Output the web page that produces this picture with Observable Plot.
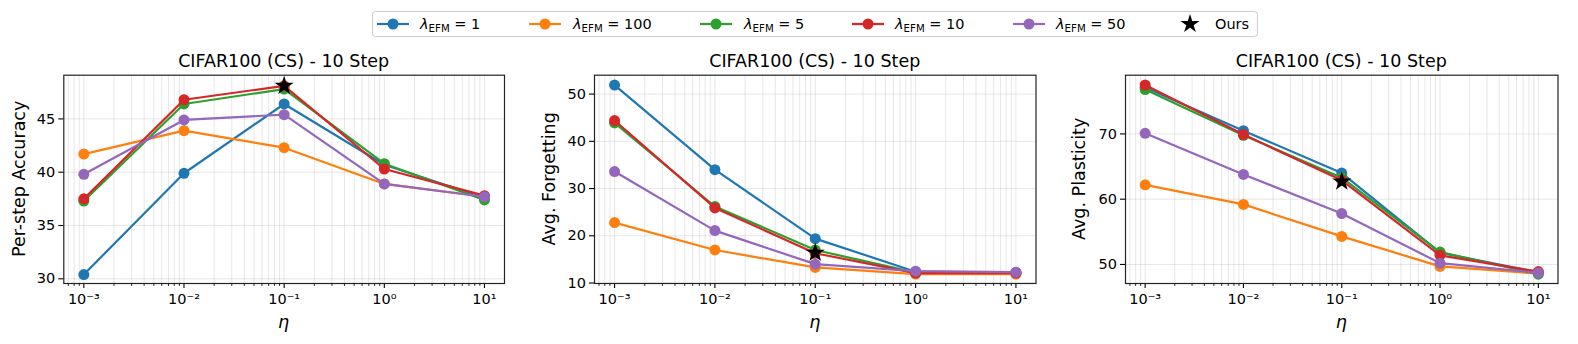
<!DOCTYPE html>
<html>
<head>
<meta charset="utf-8">
<script src="https://cdn.jsdelivr.net/npm/d3@7"></script>
<script src="https://cdn.jsdelivr.net/npm/@observablehq/plot@0.6"></script>
<style>
  html, body { margin: 0; padding: 0; background: #fff; }
  #root { position: relative; width: 1578px; height: 344px; overflow: hidden; font-family: "DejaVu Sans", sans-serif; }
  #root > svg, #root > .panel { position: absolute; }
  .panel svg { display: block; }
</style>
</head>
<body>
<div id="root"></div>
<script>
// ---------- data ----------
const eta = [0.001, 0.01, 0.1, 1, 10];
const lambdaLabels = ["1", "100", "5", "10", "50"];
const colors = ["#1f77b4", "#ff7f0e", "#2ca02c", "#d62728", "#9467bd"];
const oursEta = 0.1;

// Per-step Accuracy
const accLam1   = [30.4, 39.9, 46.4, 40.7, 37.6];
const accLam100 = [41.7, 43.9, 42.3, 38.9, 37.7];
const accLam5   = [37.3, 46.4, 47.8, 40.8, 37.4];
const accLam10  = [37.5, 46.8, 48.1, 40.3, 37.8];
const accLam50  = [39.8, 44.9, 45.4, 38.9, 37.7];
const accOurs = 48.1;

// Avg. Forgetting
const fgtLam1   = [51.9, 34.0, 19.4, 12.4, 12.2];
const fgtLam100 = [22.8, 17.0, 13.3, 11.9, 11.9];
const fgtLam5   = [43.9, 26.2, 17.0, 12.2, 12.2];
const fgtLam10  = [44.4, 25.9, 16.3, 12.1, 12.1];
const fgtLam50  = [33.6, 21.1, 14.0, 12.5, 12.3];
const fgtOurs = 16.4;

// Avg. Plasticity
const plaLam1   = [77.1, 70.5, 64.0, 51.8, 48.8];
const plaLam100 = [62.2, 59.2, 54.3, 49.7, 48.6];
const plaLam5   = [76.8, 69.8, 63.3, 51.9, 48.5];
const plaLam10  = [77.5, 69.9, 62.9, 51.4, 48.9];
const plaLam50  = [70.1, 63.8, 57.8, 50.2, 48.7];
const plaOurs = 62.7;

const xTickValues = [0.001, 0.01, 0.1, 1, 10];
const accTicks = [30, 35, 40, 45];
const fgtTicks = [10, 20, 30, 40, 50];
const plaTicks = [50, 60, 70];

const titleText = "CIFAR100 (CS) - 10 Step";
const yLabels = ["Per-step Accuracy", "Avg. Forgetting", "Avg. Plasticity"];
const xLabel = "η";
const oursLabel = "Ours";

// ---------- helpers ----------
const sup = {"-": "\u207B", "0": "\u2070", "1": "\u00B9", "2": "\u00B2", "3": "\u00B3", "4": "\u2074", "5": "\u2075", "6": "\u2076", "7": "\u2077", "8": "\u2078", "9": "\u2079"};
const fmtPow = v => "10" + String(Math.round(Math.log10(v))).split("").map(c => sup[c]).join("");
const xDomain = [Math.pow(10, -3.2), Math.pow(10, 1.2)];
const xMinor = d3.range(-4, 2).flatMap(e => d3.range(2, 10).map(k => k * Math.pow(10, e)))
  .filter(v => v >= xDomain[0] && v <= xDomain[1]);

const FONT = "DejaVu Sans";
const GRID = {stroke: "#b0b0b0", strokeOpacity: 0.3, strokeWidth: 1};
const STAR_R = 6;

function panel({series, ours, yDomain, yTicks, width, marginLeft, marginRight}) {
  const marks = [
    Plot.gridX([...xTickValues, ...xMinor], GRID),
    Plot.gridY(yTicks, GRID),
    Plot.axisX(xMinor, {tickSize: 2.8, strokeWidth: 0.9, tickFormat: () => null, label: null}),
    Plot.axisX(xTickValues, {tickSize: 5, strokeWidth: 1.1, tickPadding: 5.5, tickFormat: fmtPow, label: null, fontSize: 14.5, fill: "#000"}),
    Plot.axisY(yTicks, {tickSize: 5, strokeWidth: 1.1, tickPadding: 3.5, label: null, fontSize: 14.5, fill: "#000"})
  ];
  series.forEach((vals, i) => {
    const rows = eta.map((x, j) => ({x, y: vals[j]}));
    marks.push(Plot.line(rows, {x: "x", y: "y", stroke: colors[i], strokeWidth: 2.2}));
    marks.push(Plot.dot(rows, {x: "x", y: "y", fill: colors[i], r: 5.5}));
  });
  marks.push(Plot.dot([{x: oursEta, y: ours}], {x: "x", y: "y", symbol: "star", fill: "black", r: STAR_R}));
  marks.push(Plot.frame({stroke: "#222", strokeWidth: 1.2}));
  return Plot.plot({
    width, height: 304,
    marginTop: 34.7, marginBottom: 61, marginLeft, marginRight,
    x: {type: "log", domain: xDomain, axis: null},
    y: {domain: yDomain, axis: null},
    style: {fontFamily: FONT, fontSize: "14.5px", color: "#000", background: "transparent"},
    marks
  });
}

const root = document.getElementById("root");
const panels = [
  {left: 0, width: 526, marginLeft: 63.3, marginRight: 22,
   series: [accLam1, accLam100, accLam5, accLam10, accLam50], ours: accOurs,
   yDomain: [29.56, 49.1], yTicks: accTicks},
  {left: 526, width: 530, marginLeft: 68, marginRight: 20.5,
   series: [fgtLam1, fgtLam100, fgtLam5, fgtLam10, fgtLam50], ours: fgtOurs,
   yDomain: [9.9, 54.0], yTicks: fgtTicks},
  {left: 1056, width: 522, marginLeft: 69, marginRight: 20.5,
   series: [plaLam1, plaLam100, plaLam5, plaLam10, plaLam50], ours: plaOurs,
   yDomain: [47.08, 79.0], yTicks: plaTicks}
];
panels.forEach(p => {
  const div = document.createElement("div");
  div.className = "panel";
  div.style.left = p.left + "px";
  div.style.top = "40px";
  div.appendChild(panel(p));
  root.appendChild(div);
});

// ---------- overlay text: titles, axis labels, legend ----------
const ov = d3.select(root).append("svg")
  .attr("width", 1578).attr("height", 344)
  .style("left", "0px").style("top", "0px")
  .attr("font-family", FONT);

const frames = panels.map((p, i) => ({
  x0: p.left + p.marginLeft,
  x1: p.left + p.width - p.marginRight,
  ylabX: [24.6, 554.8, 1085.4][i]
}));
const frameMidY = (74.7 + 283) / 2;
frames.forEach((f, i) => {
  const cx = (f.x0 + f.x1) / 2;
  ov.append("text").attr("x", cx).attr("y", 67).attr("text-anchor", "middle")
    .attr("font-size", 17.5).text(titleText);
  ov.append("text").attr("transform", `translate(${f.ylabX},${frameMidY}) rotate(-90)`)
    .attr("text-anchor", "middle").attr("font-size", 17.5).text(yLabels[i]);
  ov.append("text").attr("x", cx).attr("y", 328).attr("text-anchor", "middle")
    .attr("font-size", 17.5).attr("font-style", "italic").text(xLabel);
});

// legend
const lg = ov.append("g");
lg.append("rect").attr("x", 372.5).attr("y", 11.5).attr("width", 885).attr("height", 25)
  .attr("rx", 3).attr("fill", "#fff").attr("stroke", "#cccccc").attr("stroke-width", 1);
const legendPos = [
  {lx: 377, tx: 420}, {lx: 529, tx: 573}, {lx: 700, tx: 744}, {lx: 852, tx: 895}, {lx: 1013, tx: 1056}
];
const ly = 24;
lambdaLabels.forEach((lab, i) => {
  const p = legendPos[i];
  lg.append("line").attr("x1", p.lx).attr("x2", p.lx + 32).attr("y1", ly).attr("y2", ly)
    .attr("stroke", colors[i]).attr("stroke-width", 2.2);
  lg.append("circle").attr("cx", p.lx + 16).attr("cy", ly).attr("r", 5.5).attr("fill", colors[i]);
  const t = lg.append("text").attr("x", p.tx).attr("y", 29.2).attr("font-size", 14.5);
  t.append("tspan").attr("font-style", "italic").text("λ");
  t.append("tspan").attr("dy", 3).attr("font-size", 10.2).text("EFM");
  t.append("tspan").attr("dy", -3).text(" = " + lab);
});
const starPath = d3.symbol(d3.symbolStar, STAR_R * STAR_R * Math.PI)();
lg.append("path").attr("d", starPath).attr("transform", `translate(1190,${ly})`).attr("fill", "#000");
lg.append("text").attr("x", 1215).attr("y", 29.2).attr("font-size", 14.5).text(oursLabel);
</script>
</body>
</html>
